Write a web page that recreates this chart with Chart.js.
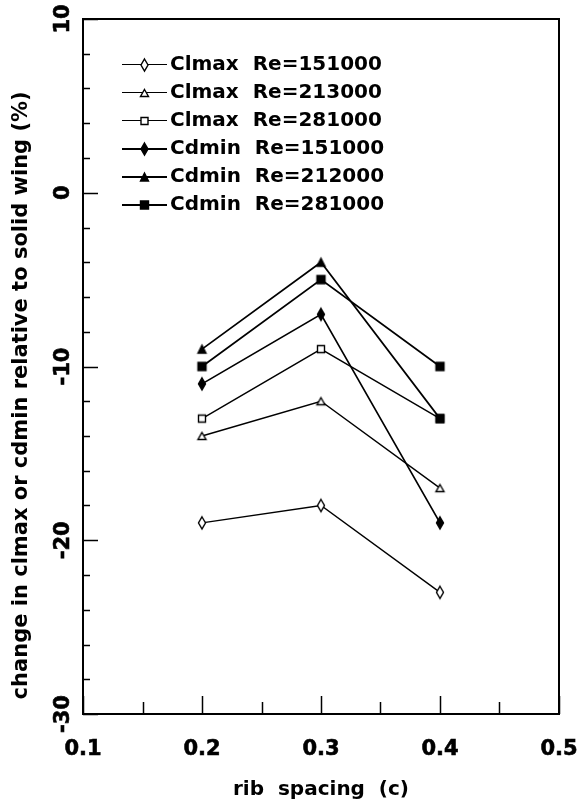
<!DOCTYPE html>
<html>
<head>
<meta charset="utf-8">
<script src="https://cdn.jsdelivr.net/npm/chart.js@4/dist/chart.umd.min.js"></script>
<style>
  html, body { margin: 0; padding: 0; background: #fff; }
  #wrap { width: 577px; height: 803px; }
</style>
</head>
<body>
<div id="wrap"><canvas id="c" width="577" height="803"></canvas></div>
<script>
// Rib spacing (chord fraction) and percentage change vs. the solid wing
const ribSpacing = [0.2, 0.3, 0.4];
const seriesLabels = [
  'Clmax  Re=151000',
  'Clmax  Re=213000',
  'Clmax  Re=281000',
  'Cdmin  Re=151000',
  'Cdmin  Re=212000',
  'Cdmin  Re=281000'
];
const clmax151 = [-19, -18, -23];
const clmax213 = [-14, -12, -17];
const clmax281 = [-13, -9, -13];
const cdmin151 = [-11, -7, -19];
const cdmin212 = [-9, -4, -13];
const cdmin281 = [-10, -5, -10];
const xTicks = [0.1, 0.2, 0.3, 0.4, 0.5];
const yTicks = [-30, -20, -10, 0, 10];

const seriesValues = [clmax151, clmax213, clmax281, cdmin151, cdmin212, cdmin281];

const FONT = 'DejaVu Sans';

// Small canvas markers (optionally with a line through them for the legend)
function marker(shape, filled, w, h, lw, lineLen, lineW) {
  const cw = lineLen || Math.ceil(w + lw * 2 + 2);
  let ch = Math.ceil(h + lw * 2 + 2);
  if (ch % 2) ch += 1;
  const c = document.createElement('canvas');
  c.width = cw; c.height = ch;
  const g = c.getContext('2d');
  const cx = cw / 2, cy = ch / 2;
  g.strokeStyle = '#000';
  if (lineLen) {
    const ly = lineW % 2 ? cy - 0.5 : cy;
    g.beginPath(); g.moveTo(0, ly); g.lineTo(cw, ly);
    g.lineWidth = lineW; g.stroke();
  }
  g.lineWidth = lw;
  g.beginPath();
  if (shape === 'diamond') {
    g.moveTo(cx, cy - h / 2); g.lineTo(cx + w / 2, cy);
    g.lineTo(cx, cy + h / 2); g.lineTo(cx - w / 2, cy);
  } else if (shape === 'triangle') {
    g.moveTo(cx, cy - h / 2); g.lineTo(cx + w / 2, cy + h / 2);
    g.lineTo(cx - w / 2, cy + h / 2);
  } else {
    g.rect(cx - w / 2, cy - h / 2, w, h);
  }
  g.closePath();
  g.fillStyle = filled ? '#000' : '#fff';
  g.fill(); g.stroke();
  return c;
}

const shapes = [
  ['diamond', false, 7, 12],
  ['triangle', false, 8, 7],
  ['rect', false, 7, 7],
  ['diamond', true, 7, 12],
  ['triangle', true, 8, 8],
  ['rect', true, 8, 8]
];
const lineWidths = [1.4, 1.4, 1.4, 1.7, 1.7, 1.7];
const legendLineWidths = [1, 1, 1, 2, 2, 2];

const pointIcons = shapes.map(s => marker(s[0], s[1], s[2], s[3], 1.4));
const legendIcons = shapes.map((s, i) => marker(s[0], s[1], s[2], s[3], 1.4, 45, legendLineWidths[i]));

const datasets = seriesValues.map((vals, i) => ({
  label: seriesLabels[i],
  data: ribSpacing.map((x, j) => ({ x: x, y: vals[j] })),
  borderColor: '#000',
  backgroundColor: '#000',
  borderWidth: lineWidths[i],
  pointStyle: pointIcons[i],
  pointRadius: 5,
  tension: 0,
  fill: false
}));
// the shared end point at 0.4 / -13 shows the solid square on top
datasets[4].pointStyle = [pointIcons[4], pointIcons[4], pointIcons[5]];
datasets[4].order = -1;

// white page, plot frame and inward tick marks
const framePlugin = {
  id: 'framePlugin',
  beforeDraw(chart) {
    const g = chart.ctx;
    g.save(); g.fillStyle = '#fff'; g.fillRect(0, 0, chart.width, chart.height); g.restore();
  },
  afterDraw(chart) {
    const g = chart.ctx;
    const a = chart.chartArea;
    const xs = chart.scales.x, ys = chart.scales.y;
    g.save();
    g.strokeStyle = '#000';
    g.lineWidth = 1.5;
    g.beginPath();
    for (let v = -30; v <= 10; v += 2) {
      const py = Math.round(ys.getPixelForValue(v)) + 0.5;
      const len = v % 10 === 0 ? 15 : 7;
      g.moveTo(a.left, py); g.lineTo(a.left + len, py);
    }
    for (let i = 2; i <= 10; i++) {
      const px = Math.round(xs.getPixelForValue(i / 20)) + 0.5;
      const len = i % 2 === 0 ? 18 : 12;
      g.moveTo(px, a.bottom); g.lineTo(px, a.bottom - len);
    }
    g.stroke();
    g.lineWidth = 2;
    g.strokeRect(a.left, a.top, a.right - a.left, a.bottom - a.top);
    g.restore();
  }
};

// legend sits inside the plot, upper left
const legendSpot = {
  id: 'legendSpot',
  afterLayout(chart) {
    const lg = chart.legend;
    const a = chart.chartArea;
    lg.left = a.left + 38;
    lg.top = a.top + 28;
  }
};

new Chart(document.getElementById('c'), {
  type: 'line',
  data: { datasets: datasets },
  options: {
    responsive: false,
    animation: false,
    devicePixelRatio: 1,
    layout: { padding: { top: 19, right: 18, left: 0, bottom: 0 } },
    scales: {
      x: {
        type: 'linear',
        min: 0.1,
        max: 0.5,
        afterBuildTicks(s) { s.ticks = xTicks.map(v => ({ value: v })); },
        afterFit(s) { s.height = 89; s.paddingLeft = 0; s.paddingRight = 0; },
        grid: { display: false, drawTicks: false },
        border: { display: false },
        ticks: {
          callback: v => Number(v).toFixed(1),
          padding: 23,
          maxRotation: 0,
          autoSkip: false,
          color: '#000',
          textStrokeColor: '#000',
          textStrokeWidth: 0.6,
          font: { family: FONT, weight: 'bold', size: 21 }
        },
        title: {
          display: true,
          text: 'rib  spacing  (c)',
          color: '#000',
          font: { family: FONT, weight: 'bold', size: 20 },
          padding: { top: 0, bottom: 1 }
        }
      },
      y: {
        type: 'linear',
        min: -30,
        max: 10,
        afterBuildTicks(s) { s.ticks = yTicks.map(v => ({ value: v })); },
        afterFit(s) { s.width = 83; s.paddingTop = 0; s.paddingBottom = 0; },
        grid: { display: false, drawTicks: false },
        border: { display: false },
        ticks: {
          callback: v => String(v),
          minRotation: 90,
          maxRotation: 90,
          crossAlign: 'center',
          padding: 0,
          autoSkip: false,
          color: '#000',
          textStrokeColor: '#000',
          textStrokeWidth: 0.6,
          font: { family: FONT, weight: 'bold', size: 21 }
        },
        title: {
          display: true,
          align: 'start',
          text: '  change in clmax or cdmin relative to solid wing (%)',
          color: '#000',
          font: { family: FONT, weight: 'bold', size: 21 },
          padding: { top: 9, bottom: 0 }
        }
      }
    },
    plugins: {
      tooltip: { enabled: false },
      legend: {
        position: 'chartArea',
        align: 'start',
        labels: {
          usePointStyle: true,
          pointStyleWidth: 31,
          padding: 8,
          color: '#000',
          font: { family: FONT, weight: 'bold', size: 20 },
          sort: (a, b) => a.datasetIndex - b.datasetIndex,
          generateLabels(chart) {
            const items = Chart.defaults.plugins.legend.labels.generateLabels(chart);
            items.forEach(it => { it.pointStyle = legendIcons[it.datasetIndex]; });
            return items;
          }
        }
      }
    }
  },
  plugins: [framePlugin, legendSpot]
});
</script>
</body>
</html>
